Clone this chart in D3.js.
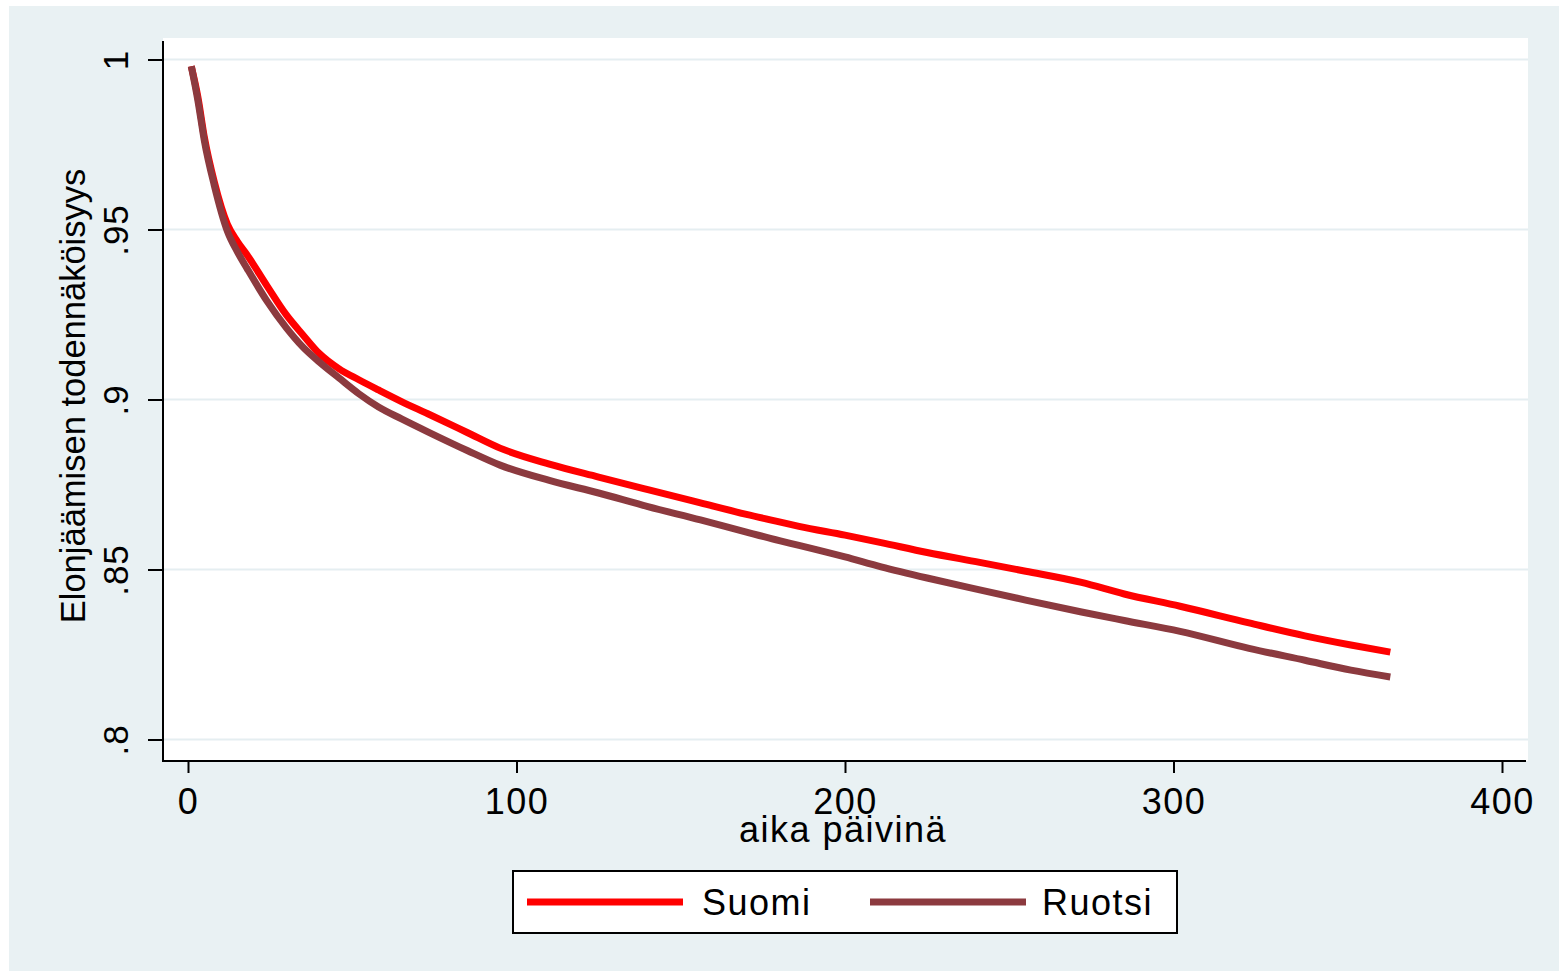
<!DOCTYPE html>
<html>
<head>
<meta charset="utf-8">
<script src="https://cdn.jsdelivr.net/npm/d3@7"></script>
<style>
  body { margin: 0; background: #ffffff; }
  text { font-family: "Liberation Sans", Arial, sans-serif; fill: #000; }
</style>
</head>
<body>
<div id="chart"></div>
<script>
// survival estimates
var days = [1, 3, 5, 8, 12, 15, 18, 24, 30, 35, 40, 46, 52, 58, 65, 73, 85, 95, 110, 125,
  140, 156, 170, 180, 186, 200, 211, 225, 241, 255, 272, 285, 302, 323, 340, 354, 366];
var suomi = [0.998, 0.989, 0.977, 0.964, 0.9515, 0.9465, 0.9425, 0.9335, 0.9248, 0.919, 0.9135, 0.909,
  0.9058, 0.9028, 0.8994, 0.8958, 0.8903, 0.8857, 0.881, 0.8772, 0.8735, 0.8696, 0.8662, 0.864,
  0.8627, 0.8601, 0.8579, 0.855, 0.8521, 0.8495, 0.8462, 0.8428, 0.8392, 0.8343, 0.8305, 0.8278, 0.8257];
var ruotsi = [0.998, 0.988, 0.976, 0.963, 0.9495, 0.9435, 0.9385, 0.929, 0.921, 0.9154, 0.911, 0.9063,
  0.9017, 0.8978, 0.8943, 0.8905, 0.885, 0.8807, 0.8762, 0.8725, 0.8685, 0.8646, 0.861, 0.8585,
  0.8571, 0.8537, 0.8508, 0.8475, 0.844, 0.841, 0.8375, 0.835, 0.8318, 0.8268, 0.8233, 0.8204, 0.8184];

var seriesNames = ["Suomi", "Ruotsi"];
var seriesColors = ["#ff0000", "#8c3a3f"];

var xTicks = [0, 100, 200, 300, 400];
var yTicks = [0.8, 0.85, 0.9, 0.95, 1];
var yTickLabels = [".8", ".85", ".9", ".95", "1"];

var xTitle = "aika päivinä";
var yTitle = "Elonjäämisen todennäköisyys";

var svgWidth = 1559;
var svgHeight = 971;

var svg = d3.select("#chart")
  .append("svg")
  .attr("width", svgWidth)
  .attr("height", svgHeight);

// graph region
svg.append("rect")
  .attr("x", 9).attr("y", 6)
  .attr("width", svgWidth - 9).attr("height", svgHeight - 6)
  .attr("fill", "#e9f1f3");

// plot region
var plot = { left: 163, right: 1528, top: 38, bottom: 761 };
svg.append("rect")
  .attr("x", plot.left).attr("y", plot.top)
  .attr("width", plot.right - plot.left).attr("height", plot.bottom - plot.top)
  .attr("fill", "#ffffff");

var x = d3.scaleLinear().domain([0, 400]).range([188, 1502]);
var y = d3.scaleLinear().domain([0.8, 1]).range([739.5, 59.5]);

// gridlines
svg.append("g")
  .selectAll("line")
  .data(yTicks)
  .enter()
  .append("line")
  .attr("x1", plot.left).attr("x2", plot.right)
  .attr("y1", d => y(d)).attr("y2", d => y(d))
  .attr("stroke", "#e5eef1")
  .attr("stroke-width", 2);

// x axis
var xAxis = svg.append("g")
  .attr("transform", `translate(0, ${plot.bottom})`)
  .call(d3.axisBottom(x).tickValues(xTicks).tickSize(12).tickPadding(15));
xAxis.select(".domain").remove();
xAxis.selectAll(".tick line").attr("stroke", "#000").attr("stroke-width", 2);
xAxis.selectAll(".tick text")
  .attr("font-size", 36)
  .attr("letter-spacing", 1.5)
  .attr("font-family", "Liberation Sans, Arial, sans-serif");

// y axis
var yAxis = svg.append("g")
  .attr("transform", `translate(${plot.left}, 0)`)
  .call(d3.axisLeft(y).tickValues(yTicks).tickSize(15)
    .tickFormat((d, i) => yTickLabels[i]));
yAxis.select(".domain").remove();
yAxis.selectAll(".tick line").attr("stroke", "#000").attr("stroke-width", 2);
yAxis.selectAll(".tick text")
  .attr("x", null).attr("dy", null)
  .attr("transform", "translate(-35, 0) rotate(-90)")
  .attr("text-anchor", "middle")
  .attr("font-size", 35)
  .attr("letter-spacing", 1)
  .attr("font-family", "Liberation Sans, Arial, sans-serif");

// axis lines
svg.append("line")
  .attr("x1", plot.left).attr("x2", plot.left)
  .attr("y1", 41).attr("y2", plot.bottom + 1)
  .attr("stroke", "#000").attr("stroke-width", 2);
svg.append("line")
  .attr("x1", plot.left).attr("x2", 1526)
  .attr("y1", plot.bottom).attr("y2", plot.bottom)
  .attr("stroke", "#000").attr("stroke-width", 2);

// axis titles
svg.append("text")
  .attr("x", 843).attr("y", 842)
  .attr("text-anchor", "middle")
  .attr("font-size", 36)
  .attr("letter-spacing", 1.5)
  .text(xTitle);

svg.append("text")
  .attr("transform", "translate(85, 396) rotate(-90)")
  .attr("text-anchor", "middle")
  .attr("font-size", 34.5)
  .text(yTitle);

// survival curves
var line = d3.line()
  .x(d => x(d[0]))
  .y(d => y(d[1]))
  .curve(d3.curveMonotoneX);

[suomi, ruotsi].forEach(function(values, i) {
  svg.append("path")
    .datum(days.map((d, j) => [d, values[j]]))
    .attr("d", line)
    .attr("fill", "none")
    .attr("stroke", seriesColors[i])
    .attr("stroke-width", 7);
});

// legend
svg.append("rect")
  .attr("x", 513).attr("y", 871)
  .attr("width", 664).attr("height", 62)
  .attr("fill", "#ffffff")
  .attr("stroke", "#000")
  .attr("stroke-width", 2);

var legendLineX = [527, 870];
var legendTextX = [702, 1042];
seriesNames.forEach(function(name, i) {
  svg.append("line")
    .attr("x1", legendLineX[i]).attr("x2", legendLineX[i] + 156)
    .attr("y1", 902).attr("y2", 902)
    .attr("stroke", seriesColors[i])
    .attr("stroke-width", 7);
  svg.append("text")
    .attr("x", legendTextX[i]).attr("y", 915)
    .attr("font-size", 36)
    .attr("letter-spacing", 1.5)
    .text(name);
});
</script>
</body>
</html>
